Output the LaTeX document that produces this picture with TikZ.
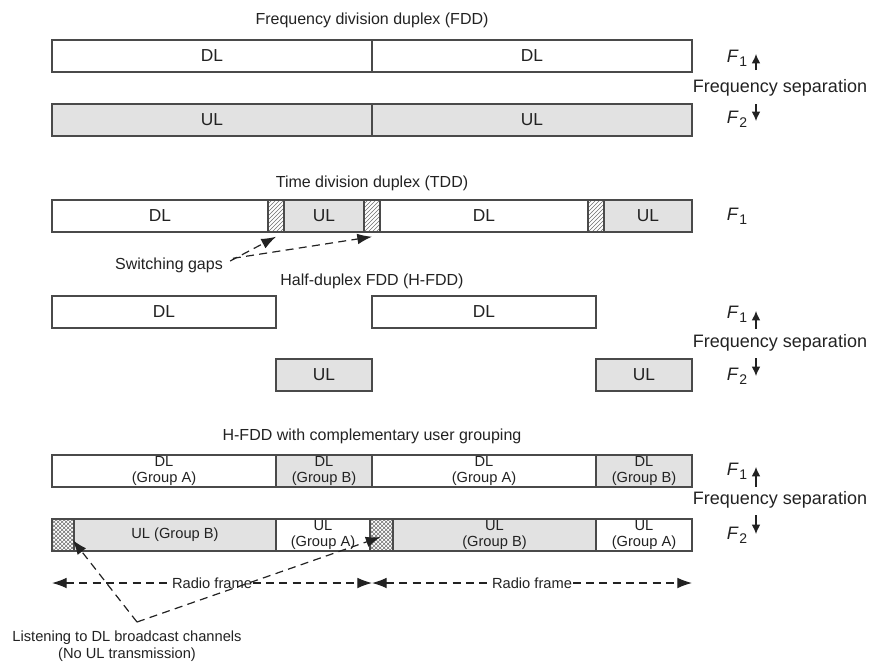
\documentclass[tikz,border=0pt]{standalone}
\usepackage{fontspec}
\setmainfont{Liberation Sans}
\usetikzlibrary{patterns,arrows.meta,calc}
\definecolor{bar}{HTML}{E2E2E2}
\definecolor{edge}{HTML}{4A4A4A}
\definecolor{ink}{HTML}{222222}
\tikzset{
  seg/.style={draw=edge, line width=1.1pt, inner sep=0pt, text=ink, align=center},
  wseg/.style={seg, fill=white, font=\fontsize{13}{14}\selectfont},
  gseg/.style={seg, fill=bar, font=\fontsize{13}{14}\selectfont},
  wgrp/.style={seg, fill=white, font=\fontsize{11}{11.5}\selectfont},
  ggrp/.style={seg, fill=bar, font=\fontsize{11}{11.5}\selectfont},
  hatchseg/.style={seg, pattern=north east lines, pattern color=edge!80},
  xseg/.style={seg, pattern=crosshatch, pattern color=edge!80},
  title/.style={text=ink, font=\fontsize{12}{14}\selectfont},
  flab/.style={text=ink, font=\fontsize{13.5}{15}\selectfont, inner sep=0pt},
  small/.style={text=ink, font=\fontsize{11}{13}\selectfont, align=center},
  darr/.style={draw=ink, line width=0.9pt, dash pattern=on 6pt off 4pt, -{Latex[length=11pt,width=8pt]}},
  tip2/.style={{Latex[length=11pt,width=8pt]}-{Latex[length=11pt,width=8pt]}},
  farr/.style={draw=ink, line width=0.9pt, -{Latex[length=7pt,width=6.5pt]}},
}
\newcommand\segm[7]{%
  \pgfmathsetmacro\segw{(#4-#3)*0.75}%
  \pgfmathsetmacro\segh{(#6-#5)*0.75}%
  \node[#1, minimum width=\segw pt, minimum height=\segh pt] (#2) at ({(#3+#4)/2},{(#5+#6)/2}) {#7};}
\newcommand\Fi[1]{\textit{F}\kern0.5pt\raisebox{-0.45ex}{\fontsize{10.5}{10}\selectfont #1}}
\begin{document}
\begin{tikzpicture}[x=0.75pt,y=-0.75pt]
\useasboundingbox (0,0) rectangle (875,664);

% ---------------- FDD ----------------
\node[title] (t1) at (372,20) {Frequency division duplex (FDD)};
\segm{wseg}{a1}{52}{372}{40}{72}{DL}
\segm{wseg}{a2}{372}{692}{40}{72}{DL}
\segm{gseg}{b1}{52}{372}{104}{136}{UL}
\segm{gseg}{b2}{372}{692}{104}{136}{UL}
\node[flab] (fa1) at (737,58) {\Fi{1}};
\node[flab] (fsa) at (780,88) {Frequency separation};
\node[flab] (fa2) at (737,119) {\Fi{2}};
\coordinate (ua0) at (756,70); \coordinate (ua1) at (756,54);
\coordinate (da0) at (756,104); \coordinate (da1) at (756,121);
\draw[farr] (ua0) -- (ua1);
\draw[farr] (da0) -- (da1);

% ---------------- TDD ----------------
\node[title] (t2) at (372,183) {Time division duplex (TDD)};
\segm{wseg}{c1}{52}{268}{200}{232}{DL}
\segm{hatchseg}{g1}{268}{284}{200}{232}{}
\segm{gseg}{c2}{284}{364}{200}{232}{UL}
\segm{hatchseg}{g2}{364}{380}{200}{232}{}
\segm{wseg}{c3}{380}{588}{200}{232}{DL}
\segm{hatchseg}{g3}{588}{604}{200}{232}{}
\segm{gseg}{c4}{604}{692}{200}{232}{UL}
\node[flab] (fb1) at (737,216) {\Fi{1}};
\node[text=ink, font=\fontsize{12}{13}\selectfont] (sg) at (169,265) {Switching gaps};
\draw[darr] ([xshift=2pt,yshift=3pt]sg.east) -- ([yshift=-3pt]g1.south);
\draw[darr] ([xshift=4pt,yshift=5pt]sg.east) -- ([yshift=-3pt]g2.south);

% ---------------- H-FDD ----------------
\node[title] (t3) at (372,281) {Half-duplex FDD (H-FDD)};
\segm{wseg}{d1}{52}{276}{296}{328}{DL}
\segm{wseg}{d2}{372}{596}{296}{328}{DL}
\segm{gseg}{e1}{276}{372}{359}{391}{UL}
\segm{gseg}{e2}{596}{692}{359}{391}{UL}
\node[flab] (fc1) at (737,314) {\Fi{1}};
\node[flab] (fsc) at (780,343) {Frequency separation};
\node[flab] (fc2) at (737,376) {\Fi{2}};
\coordinate (uc0) at (756,329); \coordinate (uc1) at (756,311);
\coordinate (dc0) at (756,358); \coordinate (dc1) at (756,376);
\draw[farr] (uc0) -- (uc1);
\draw[farr] (dc0) -- (dc1);

% ---------------- H-FDD with grouping ----------------
\node[title] (t4) at (372,436) {H-FDD with complementary user grouping};
\segm{wgrp}{p1}{52}{276}{455}{487}{DL\\(Group A)}
\segm{ggrp}{p2}{276}{372}{455}{487}{DL\\(Group B)}
\segm{wgrp}{p3}{372}{596}{455}{487}{DL\\(Group A)}
\segm{ggrp}{p4}{596}{692}{455}{487}{DL\\(Group B)}
\segm{xseg}{h1}{52}{74}{519}{551}{}
\segm{ggrp}{q1}{74}{276}{519}{551}{UL (Group B)}
\segm{wgrp}{q2}{276}{370}{519}{551}{UL\\(Group A)}
\segm{xseg}{h2}{370}{393}{519}{551}{}
\segm{ggrp}{q3}{393}{596}{519}{551}{UL\\(Group B)}
\segm{wgrp}{q4}{596}{692}{519}{551}{UL\\(Group A)}
\node[flab] (fd1) at (737,471) {\Fi{1}};
\node[flab] (fsd) at (780,500) {Frequency separation};
\node[flab] (fd2) at (737,535) {\Fi{2}};
\coordinate (ud0) at (756,487); \coordinate (ud1) at (756,467);
\coordinate (dd0) at (756,515); \coordinate (dd1) at (756,534);
\draw[farr] (ud0) -- (ud1);
\draw[farr] (dd0) -- (dd1);

% radio frames
\coordinate (rf0) at (52,583);
\coordinate (rf1) at (372,583);
\coordinate (rf2) at (692,583);
\draw[darr, tip2] (rf0) -- (rf1)
  node[midway, fill=white, inner sep=1pt, small] (rfa) {Radio frame};
\draw[darr, tip2] (rf1) -- (rf2)
  node[midway, fill=white, inner sep=1pt, small] (rfb) {Radio frame};

% listening annotation
\coordinate (vx) at (137,622);
\draw[darr] (vx) -- ($(h1.east)+(-2,5)$);
\draw[darr] (vx) -- ($(h2.center)+(-1,2)$);
\node[small] (lis) at (127,646) {Listening to DL broadcast channels\\(No UL transmission)};
\end{tikzpicture}
\end{document}
